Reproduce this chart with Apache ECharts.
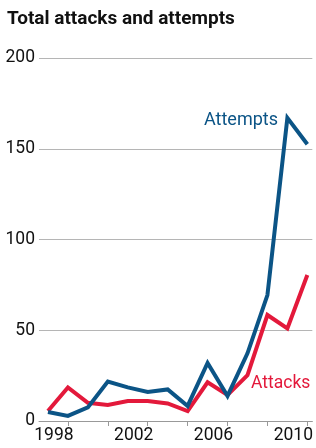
<!DOCTYPE html>
<html>
<head>
<meta charset="utf-8">
<script src="https://cdn.jsdelivr.net/npm/echarts@6/dist/echarts.min.js"></script>
<style>
  html, body { margin: 0; padding: 0; background: #fff; }
  #main { width: 316px; height: 448px; }
</style>
</head>
<body>
<div id="main"></div>
<script>
// years on x axis
var years = [1997, 1998, 1999, 2000, 2001, 2002, 2003, 2004, 2005, 2006, 2007, 2008, 2009, 2010];
// values
var attempts = [5, 2.8, 7.5, 21.7, 18.5, 16, 17.4, 8.3, 32, 13.8, 37.3, 69.4, 167, 152.5];
var attacks = [5.5, 18.5, 10, 8.8, 11, 11, 9.7, 5.5, 21.3, 14.3, 25.3, 58.4, 51, 80.4];
var yTicks = [0, 50, 100, 150, 200];
var xTickYears = [1998, 2000, 2002, 2004, 2006, 2008, 2010];
var xLabelYears = [1998, 2002, 2006, 2010];

var blue = '#0b5486';
var red = '#e3193b';
var font = 'Roboto';

function pairs(vals) {
    let out = [];
    for (let i = 0; i < years.length; i++) {
        out.push([years[i], vals[i]]);
    }
    return out;
}

var myChart = echarts.init(document.getElementById('main'));

var option = {
    animation: false,
    backgroundColor: '#fff',
    title: {
        text: 'Total attacks and attempts',
        left: 2,
        top: 5,
        textStyle: { fontFamily: font, fontWeight: 'bold', fontSize: 19, color: '#111' }
    },
    grid: { left: 39, right: 3, top: 58, bottom: 27, containLabel: false },
    xAxis: {
        type: 'value',
        min: 1996.55,
        max: 2010.25,
        axisLine: { show: true, lineStyle: { color: '#999', width: 1 } },
        axisTick: { show: true, length: 5, customValues: xTickYears, lineStyle: { color: '#999' } },
        axisLabel: {
            customValues: xLabelYears,
            fontFamily: font, fontSize: 17.5, color: '#111',
            margin: 6,
            padding: [0, 28, 0, 0],
            formatter: function (v) { return String(Math.round(v)); }
        },
        splitLine: { show: false }
    },
    yAxis: {
        type: 'value',
        min: 0,
        max: 200,
        interval: 50,
        axisLine: { show: false },
        axisTick: { show: false },
        axisLabel: { fontFamily: font, fontSize: 17.5, color: '#111', margin: 4 },
        splitLine: { lineStyle: { color: '#b5b5b5', width: 1 } }
    },
    graphic: [
        { type: 'text', left: 204, top: 111, style: { text: 'Attempts', fill: blue, font: '18px ' + font } },
        { type: 'text', left: 251, top: 375, style: { text: 'Attacks', fill: red, font: '17.5px ' + font } }
    ],
    series: [
        {
            name: 'Attacks',
            type: 'line',
            data: pairs(attacks),
            showSymbol: false,
            lineStyle: { color: red, width: 4, join: 'miter' },
            z: 2
        },
        {
            name: 'Attempts',
            type: 'line',
            data: pairs(attempts),
            showSymbol: false,
            lineStyle: { color: blue, width: 4, join: 'miter' },
            z: 3
        }
    ]
};

myChart.setOption(option);
</script>
</body>
</html>
